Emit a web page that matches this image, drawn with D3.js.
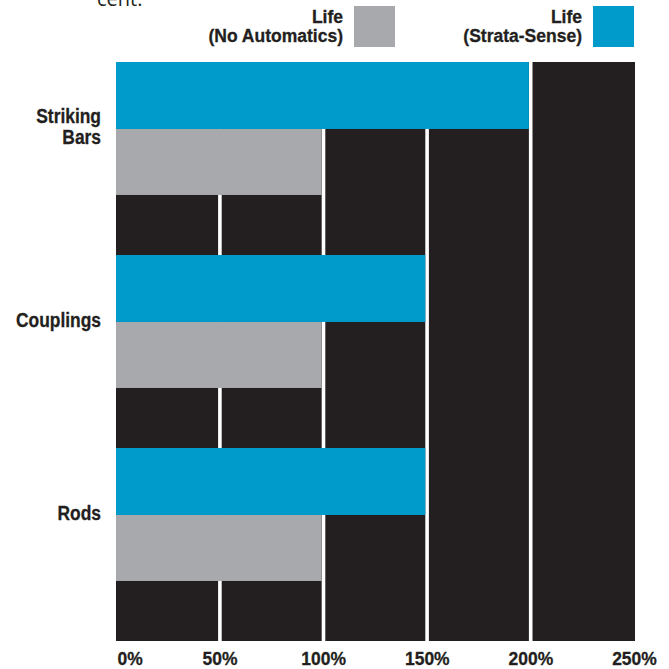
<!DOCTYPE html>
<html>
<head>
<meta charset="utf-8">
<script src="https://cdn.jsdelivr.net/npm/d3@7"></script>
<style>
  body { margin: 0; background: #fff; }
  svg { display: block; }
  text { font-family: "Liberation Sans", Arial, sans-serif; font-weight: bold; fill: #231f20; stroke: #231f20; stroke-width: 0.3px; }
</style>
</head>
<body>
<svg id="chart" width="669" height="669"></svg>
<script>
// values (per cent of normal life)
var categories = ["Striking Bars", "Couplings", "Rods"];
var categoryLines = [["Striking", "Bars"], ["Couplings"], ["Rods"]];
var strataSense = [200, 150, 150];
var noAutomatics = [100, 100, 100];
var tickValues = [0, 50, 100, 150, 200, 250];
var legendItems = [
  { lines: ["Life", "(No Automatics)"], color: "#a7a9ac" },
  { lines: ["Life", "(Strata-Sense)"], color: "#009bcb" }
];

var svg = d3.select("#chart");

var x = d3.scaleLinear().domain([0, 250]).range([116, 634]);
var y = d3.scaleBand().domain(categories).range([62, 641]);
var bw = y.bandwidth();
var blueH = bw * 0.347;
var grayH = bw * 0.342;

// dark plot background
svg.append("rect")
  .attr("x", x(0))
  .attr("y", 62)
  .attr("width", 635 - x(0))
  .attr("height", 641 - 62)
  .attr("fill", "#231f20");

// white gridlines
svg.selectAll(".grid")
  .data(tickValues.slice(1, -1))
  .enter().append("rect")
  .attr("class", "grid")
  .attr("x", function(d) { return x(d) - 1.5; })
  .attr("y", 62)
  .attr("width", 3.6)
  .attr("height", 641 - 62)
  .attr("fill", "#fff");

// gray bars
svg.selectAll(".gray")
  .data(categories)
  .enter().append("rect")
  .attr("class", "gray")
  .attr("x", x(0))
  .attr("y", function(d) { return y(d) + blueH; })
  .attr("width", function(d, i) { return x(noAutomatics[i]) - x(0) - 1.5; })
  .attr("height", grayH)
  .attr("fill", "#a7a9ac");

// blue bars
svg.selectAll(".blue")
  .data(categories)
  .enter().append("rect")
  .attr("class", "blue")
  .attr("x", x(0))
  .attr("y", function(d) { return y(d); })
  .attr("width", function(d, i) { return x(strataSense[i]) - x(0) - 1.5; })
  .attr("height", blueH)
  .attr("fill", "#009bcb");

// category labels (squeezed to look condensed)
svg.selectAll(".cat")
  .data(categories)
  .enter().append("text")
  .attr("class", "cat")
  .attr("text-anchor", "end")
  .style("font-size", "20px")
  .attr("transform", function(d) { return "translate(101," + (y(d) + blueH + 5) + ") scale(0.87,1)"; })
  .each(function(d, i) {
    var lines = categoryLines[i];
    var t = d3.select(this);
    lines.forEach(function(l, j) {
      t.append("tspan")
        .attr("x", 0)
        .attr("y", (j - (lines.length - 1) / 2) * 21)
        .text(l);
    });
  });

// x axis
var axis = svg.append("g")
  .attr("transform", "translate(0,641)")
  .call(d3.axisBottom(x).tickValues(tickValues).tickSize(0).tickFormat(function(d) { return d + "%"; }));
axis.select(".domain").remove();
axis.selectAll("text")
  .attr("y", 24)
  .attr("dy", 0)
  .attr("font-family", null)
  .attr("font-size", null)
  .style("font-size", "19px")
  .attr("transform", "scale(0.92,1)")
  .attr("fill", "#231f20");
axis.selectAll(".tick").filter(function(d) { return d === 0; }).select("text")
  .attr("text-anchor", "start")
  .attr("x", 1);

// legend
var legendBoxX = [354, 593];
legendItems.forEach(function(item, i) {
  svg.append("rect")
    .attr("x", legendBoxX[i])
    .attr("y", 6)
    .attr("width", 41)
    .attr("height", 41)
    .attr("fill", item.color);
  var t = svg.append("text")
    .attr("text-anchor", "end")
    .style("font-size", "17.5px");
  item.lines.forEach(function(l, j) {
    t.append("tspan")
      .attr("x", legendBoxX[i] - 11)
      .attr("y", 23 + j * 19)
      .text(l);
  });
});

// clipped caption remnant at the top
svg.append("text")
  .attr("x", 97)
  .attr("y", 6)
  .style("font-family", "'Open Sans', sans-serif")
  .style("font-weight", "normal")
  .style("stroke", "none")
  .style("font-size", "20px")
  .text("cent.");
</script>
</body>
</html>
